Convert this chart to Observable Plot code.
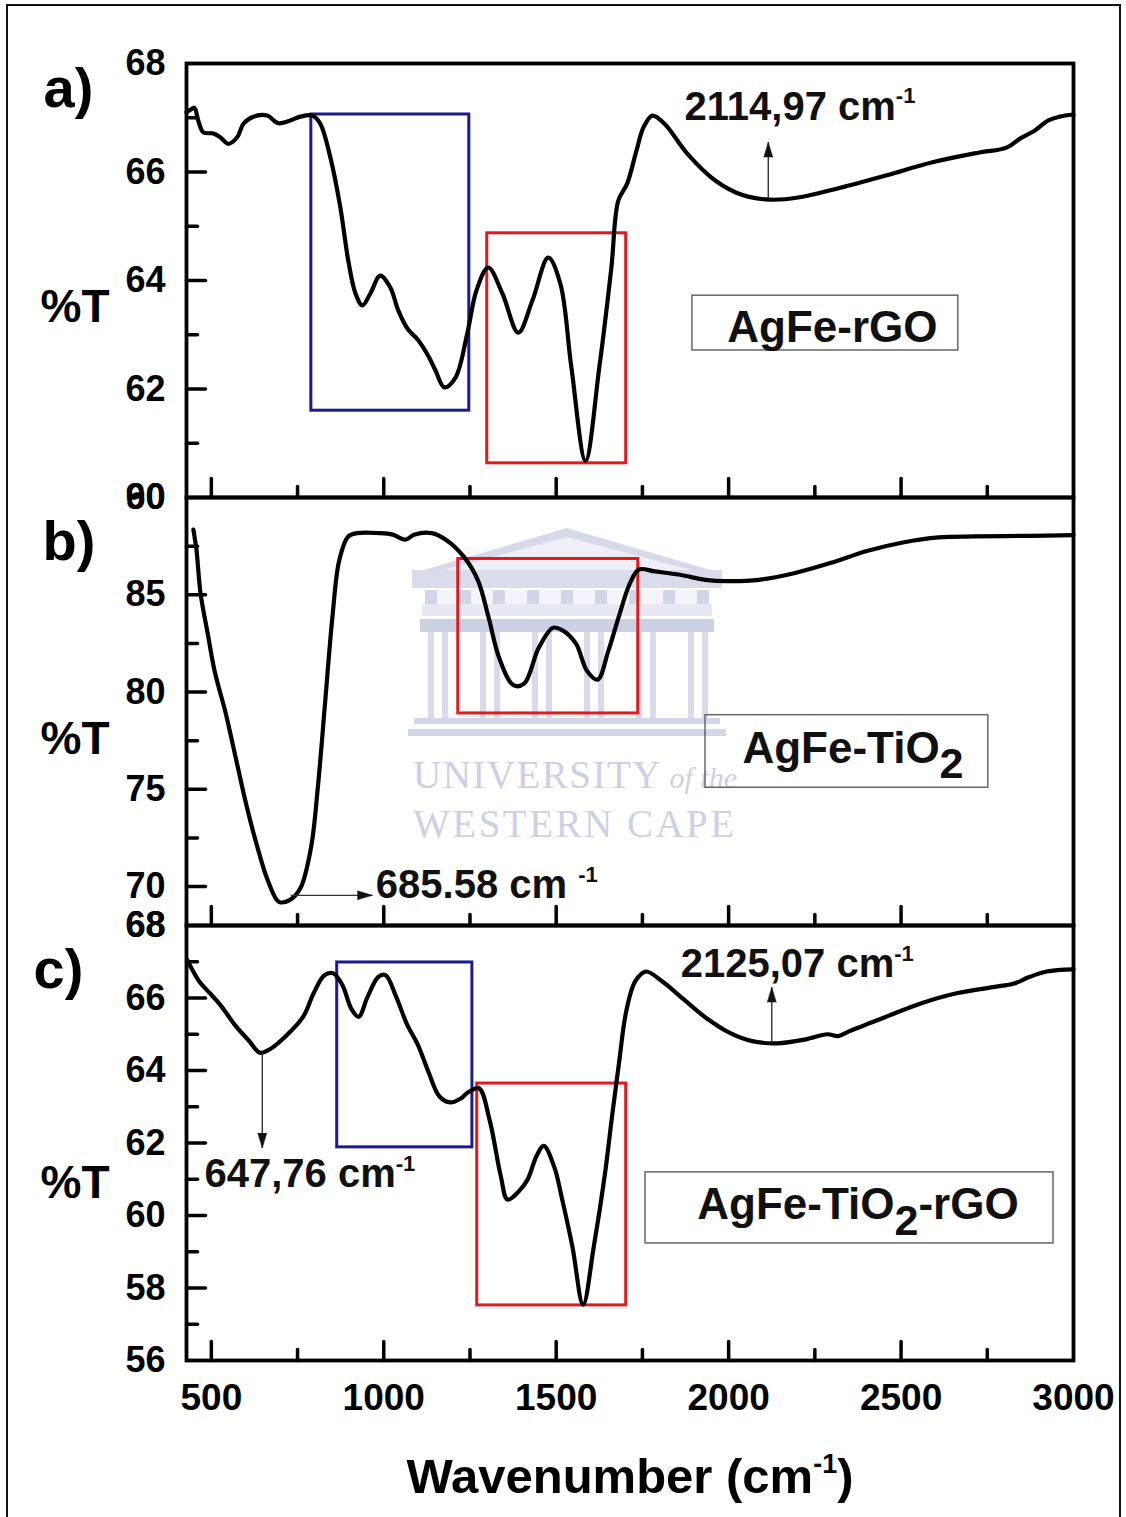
<!DOCTYPE html>
<html>
<head>
<meta charset="utf-8">
<script src="https://cdn.jsdelivr.net/npm/d3@7"></script>
<script src="https://cdn.jsdelivr.net/npm/@observablehq/plot@0.6"></script>
<style>
  body { margin: 0; background: #fff; }
  #wrap { position: relative; width: 1126px; height: 1517px; overflow: hidden; background: #fff; }
  #border { position: absolute; left: 6px; top: 4px; width: 1115px; height: 1540px; border: 2px solid #111; box-sizing: border-box; }
  .wm { position: absolute; }
  .wmtext { position: absolute; font-family: "Liberation Serif", "DejaVu Serif", serif; color: #cdd0e4; font-size: 39px; letter-spacing: 1.5px; white-space: nowrap; }
</style>
</head>
<body>
<div id="wrap">
  <div id="border"></div>
  <!-- faint watermark -->
  <div class="wm" style="left:410px;top:528px;width:314px;height:46px;background:#d6d9ea;clip-path:polygon(0 100%,50% 0,100% 100%);"></div>
  <div class="wm" style="left:428px;top:537px;width:278px;height:37px;background:#eff0f7;clip-path:polygon(0 100%,50% 0,100% 100%);"></div>
  <div class="wm" style="left:412px;top:570px;width:310px;height:18px;background:#dadcec;"></div>
  <div class="wm" style="left:425px;top:590px;width:284px;height:14px;background:repeating-linear-gradient(90deg,#d2d5e8 0 12px,#f4f5fa 12px 34px);"></div>
  <div class="wm" style="left:422px;top:604px;width:290px;height:12px;background:#e7e8f2;"></div>
  <div class="wm" style="left:420px;top:619px;width:294px;height:13px;background:#ccd0e5;"></div>
  <div class="wm" style="left:428px;top:632px;width:280px;height:86px;background:repeating-linear-gradient(90deg,#d9dbec 0 6px,transparent 6px 14px,#d9dbec 14px 20px,transparent 20px 52px);"></div>
  <div class="wm" style="left:414px;top:718px;width:306px;height:6px;background:#d3d6e9;"></div>
  <div class="wm" style="left:408px;top:729px;width:318px;height:7px;background:#d3d6e9;"></div>
  <div class="wmtext" style="left:413px;top:752px;">UNIVERSITY<span style="font-style:italic;font-size:30px;letter-spacing:0"> of the</span></div>
  <div class="wmtext" style="left:413px;top:801px;letter-spacing:2.5px;">WESTERN CAPE</div>
</div>
<script>
// ---------------- data ----------------
const xDomain = [428, 3000];
const xMajorTicks = [500, 1000, 1500, 2000, 2500];
const xMinorTicks = [750, 1250, 1750, 2250, 2750];
const xTickLabels = [500, 1000, 1500, 2000, 2500, 3000];

// a) AgFe-rGO
const waveA = [428, 440, 451, 462, 477, 506, 526, 549, 575, 593, 622, 662, 694, 729, 758, 793, 816, 845, 874, 897, 918, 938, 961, 990, 1019, 1042, 1070, 1100, 1130, 1150, 1176, 1208, 1242, 1269, 1303, 1344, 1390, 1431, 1477, 1512, 1544, 1585, 1625, 1660, 1680, 1706, 1733, 1753, 1779, 1814, 1880, 1962, 2043, 2121, 2202, 2324, 2458, 2591, 2727, 2806, 2846, 2887, 2927, 2960, 3000];
const transA = [67.10, 67.15, 67.18, 66.95, 66.73, 66.71, 66.64, 66.52, 66.64, 66.89, 67.02, 67.04, 66.90, 66.95, 67.02, 67.04, 66.89, 66.27, 65.35, 64.37, 63.76, 63.54, 63.76, 64.09, 63.87, 63.45, 63.10, 62.90, 62.60, 62.34, 62.03, 62.21, 63.02, 63.82, 64.24, 63.76, 63.04, 63.63, 64.42, 63.94, 62.40, 60.68, 62.40, 64.24, 65.47, 65.79, 66.40, 66.82, 67.04, 66.89, 66.34, 65.84, 65.57, 65.49, 65.53, 65.71, 65.94, 66.18, 66.36, 66.45, 66.62, 66.76, 66.95, 67.02, 67.06];

// b) AgFe-TiO2
const waveB = [448, 452, 457, 469, 490, 510, 541, 572, 603, 634, 665, 696, 727, 758, 789, 809, 830, 851, 871, 897, 923, 985, 1026, 1062, 1088, 1139, 1180, 1232, 1273, 1304, 1335, 1376, 1407, 1449, 1490, 1516, 1557, 1589, 1620, 1651, 1682, 1714, 1740, 1786, 1859, 1932, 1995, 2089, 2193, 2297, 2401, 2505, 2609, 2714, 2870, 3000];
const transB = [88.35, 87.9, 87.3, 85.04, 82.96, 81.04, 78.96, 76.52, 74.09, 72.0, 70.26, 69.22, 69.30, 69.91, 72.0, 75.13, 79.48, 83.83, 86.78, 88.0, 88.17, 88.17, 88.09, 87.83, 88.09, 88.17, 87.83, 86.96, 85.74, 83.83, 81.74, 80.35, 80.43, 82.26, 83.3, 83.2, 82.5, 81.1, 80.64, 82.1, 83.9, 85.6, 86.3, 86.2, 86.03, 85.77, 85.7, 85.77, 86.12, 86.64, 87.25, 87.69, 87.95, 88.0, 88.03, 88.07];

// c) AgFe-TiO2-rGO
const waveC = [430, 464, 495, 526, 568, 609, 641, 672, 714, 766, 797, 828, 854, 880, 906, 927, 953, 984, 1005, 1036, 1068, 1099, 1130, 1161, 1193, 1224, 1245, 1276, 1307, 1339, 1359, 1391, 1417, 1443, 1464, 1495, 1516, 1547, 1578, 1609, 1641, 1661, 1682, 1703, 1729, 1760, 1807, 1870, 1932, 2005, 2068, 2141, 2224, 2286, 2318, 2349, 2453, 2557, 2661, 2766, 2828, 2870, 2922, 3000];
const transC = [67.05, 66.47, 66.14, 65.81, 65.26, 64.82, 64.49, 64.60, 64.93, 65.48, 66.14, 66.63, 66.68, 66.36, 65.70, 65.48, 66.03, 66.58, 66.63, 66.03, 65.26, 64.71, 63.95, 63.29, 63.12, 63.23, 63.40, 63.51, 62.63, 61.10, 60.44, 60.66, 60.99, 61.64, 61.92, 61.32, 60.50, 59.14, 57.54, 59.14, 61.12, 62.66, 64.20, 65.63, 66.46, 66.73, 66.46, 65.96, 65.47, 65.03, 64.81, 64.75, 64.86, 65.00, 64.95, 65.08, 65.47, 65.85, 66.13, 66.30, 66.40, 66.57, 66.73, 66.79];

// y axes
const yDomainA = [60, 68], yLabelsA = [60, 62, 64, 66, 68], yMajorA = [62, 64, 66], yMinorA = [61, 63, 65, 67];
const yDomainB = [68, 90], yLabelsB = [68, 70, 75, 80, 85, 90], yMajorB = [70, 75, 80, 85], yMinorB = [72.5, 77.5, 82.5, 87.5];
const yDomainC = [56, 68], yLabelsC = [56, 58, 60, 62, 64, 66, 68], yMajorC = [58, 60, 62, 64, 66], yMinorC = [57, 59, 61, 63, 65, 67];

// highlighted regions (wavenumber range, %T range)
const boxesA = [{x1: 790, x2: 1248, y1: 61.6, y2: 67.06, color: "#1b1b8c"}, {x1: 1300, x2: 1703, y1: 60.63, y2: 64.87, color: "#e3191c"}];
const boxesB = [{x1: 1216, x2: 1738, y1: 78.9, y2: 86.84, color: "#e3191c"}];
const boxesC = [{x1: 865, x2: 1257, y1: 61.88, y2: 66.98, color: "#1b1b8c"}, {x1: 1271, x2: 1703, y1: 57.52, y2: 63.64, color: "#e3191c"}];

// sample legends
const legendA = {x1: 1895, x2: 2666, y1: 62.71, y2: 63.72, text: "AgFe-rGO", tx: 1996, ty: 63.12};
const legendB = {x1: 1933, x2: 2753, y1: 75.08, y2: 78.81, text: "AgFe-TiO_{2}", tx: 2040, ty: 77.10};
const legendC = {x1: 1759, x2: 2942, y1: 59.23, y2: 61.19, text: "AgFe-TiO_{2}-rGO", tx: 1909, ty: 60.30};

// peak annotations
const notesA = [{text: "2114,97 cm^{-1}", x: 1872, y: 67.19}];
const arrowsA = [{x1: 2115, y1: 65.52, x2: 2115, y2: 66.55, rotate: 0}];
const notesB = [{text: "685.58 cm ^{-1}", x: 977, y: 70.05}];
const arrowsB = [{x1: 730, y1: 69.55, x2: 967, y2: 69.55, rotate: 90}];
const notesC = [{text: "647,76 cm^{-1}", x: 480, y: 61.13}, {text: "2125,07 cm^{-1}", x: 1861, y: 66.92}];
const arrowsC = [{x1: 647.76, y1: 64.5, x2: 647.76, y2: 61.86, rotate: 180}, {x1: 2125.07, y1: 64.8, x2: 2125.07, y2: 66.3, rotate: 0}];

// ---------------- drawing ----------------
const FONT = "Liberation Sans, Arial, Helvetica, sans-serif";
const W = 1126, ML = 186, MR = 53;
const tickShape = {draw(ctx, l) { ctx.moveTo(0, 0); ctx.lineTo(0, -l); }};

function panel(cfg) {
  const {wave, trans, yDomain, yLabels, yMajor, yMinor, boxes, legend, notes, arrows, tag, tagDx, tagDy, pctY, top, bottom, marginTop, marginBottom, showX} = cfg;
  const data = wave.map((w, i) => ({w, t: trans[i]}));
  const y0 = yDomain[0];
  const marks = [
    Plot.rect(boxes, {x1: "x1", x2: "x2", y1: "y1", y2: "y2", stroke: "color", fill: "none", strokeWidth: 3}),
    Plot.rect([legend], {x1: "x1", x2: "x2", y1: "y1", y2: "y2", stroke: "#666", fill: "none", strokeWidth: 1.5}),
    Plot.text([legend], {x: "tx", y: "ty", text: "text", textAnchor: "start", lineAnchor: "middle", fontSize: 44, fontWeight: "bold", fill: "#111"}),
    Plot.line(data, {x: "w", y: "t", curve: "catmull-rom", stroke: "#000", strokeWidth: 4.2, strokeLinejoin: "round"}),
    Plot.link(arrows, {x1: "x1", y1: "y1", x2: "x2", y2: "y2", stroke: "#333", strokeWidth: 1.4}),
    Plot.vector(arrows, {x: "x2", y: "y2", rotate: "rotate", length: 15, r: 4.5, anchor: "end", shape: "spike", fill: "#111", stroke: "#111", strokeWidth: 0.5}),
    Plot.text(notes, {x: "x", y: "y", text: "text", textAnchor: "start", lineAnchor: "middle", fontSize: 40, fontWeight: "bold", fill: "#111"}),
    // ticks (inward)
    Plot.vector(xMajorTicks, {x: d => d, y: () => y0, length: 19, rotate: 0, anchor: "start", shape: tickShape, stroke: "#000", strokeWidth: 3.5}),
    Plot.vector(xMinorTicks, {x: d => d, y: () => y0, length: 11, rotate: 0, anchor: "start", shape: tickShape, stroke: "#000", strokeWidth: 3.5}),
    Plot.vector(yMajor, {y: d => d, x: () => xDomain[0], length: 19, rotate: 90, anchor: "start", shape: tickShape, stroke: "#000", strokeWidth: 3.5}),
    Plot.vector(yMinor, {y: d => d, x: () => xDomain[0], length: 11, rotate: 90, anchor: "start", shape: tickShape, stroke: "#000", strokeWidth: 3.5}),
    Plot.axisY({ticks: yLabels, tickSize: 0, tickPadding: 21, tickFormat: d => String(d), fontSize: 36, fontWeight: "bold", label: null}),
    Plot.frame({stroke: "#000", strokeWidth: 3.8}),
    Plot.text([tag], {frameAnchor: "top-left", lineAnchor: "middle", dx: tagDx, dy: tagDy, textAnchor: "start", fontSize: 56, fontWeight: "bold", fill: "#000"}),
    Plot.text(["%T"], {y: () => pctY, frameAnchor: "left", lineAnchor: "middle", dx: -146, textAnchor: "start", fontSize: 46, fontWeight: "bold", fill: "#000"})
  ];
  if (showX) {
    marks.push(Plot.axisX({ticks: xTickLabels, tickSize: 0, tickPadding: 23, tickFormat: d => String(d), fontSize: 37, fontWeight: "bold", label: null}));
    marks.push(Plot.text(["Wavenumber (cm^{-1})"], {frameAnchor: "bottom", lineAnchor: "middle", dy: 117, fontSize: 49, fontWeight: "bold", fill: "#000"}));
  }
  const height = marginTop + (bottom - top) + marginBottom;
  const svg = Plot.plot({
    width: W, height,
    marginLeft: ML, marginRight: MR, marginTop, marginBottom,
    x: {domain: xDomain, axis: null},
    y: {domain: yDomain, axis: null},
    style: {fontFamily: FONT, fontWeight: "bold", color: "#000", background: "transparent", overflow: "visible"},
    marks
  });
  svg.style.position = "absolute";
  svg.style.left = "0px";
  svg.style.top = (top - marginTop) + "px";
  svg.style.overflow = "visible";
  svg.style.maxWidth = "none";
  document.getElementById("wrap").appendChild(svg);
  rich(svg);
  return svg;
}

// turn ^{..} and _{..} into superscript / subscript tspans
function rich(svg) {
  svg.querySelectorAll("text").forEach(t => {
    const s = t.textContent;
    if (!/[\^_]\{/.test(s)) return;
    const fs = parseFloat(getComputedStyle(t).fontSize) || 30;
    const parts = s.split(/(\^\{[^}]*\}|_\{[^}]*\})/).filter(p => p !== "");
    while (t.firstChild) t.removeChild(t.firstChild);
    let shift = 0, first = true;
    for (const p of parts) {
      const ts = document.createElementNS("http://www.w3.org/2000/svg", "tspan");
      let target = 0, size = fs, txt = p;
      if (p.startsWith("^{")) { target = -0.42 * fs; size = 0.55 * fs; txt = p.slice(2, -1); }
      else if (p.startsWith("_{")) { target = 0.36 * fs; size = 0.98 * fs; txt = p.slice(2, -1); }
      if (!first && target - shift !== 0) ts.setAttribute("dy", target - shift);
      shift = target; first = false;
      ts.setAttribute("font-size", size);
      ts.textContent = txt;
      t.appendChild(ts);
    }
  });
}

panel({wave: waveA, trans: transA, yDomain: yDomainA, yLabels: yLabelsA, yMajor: yMajorA, yMinor: yMinorA,
  boxes: boxesA, legend: legendA, notes: notesA, arrows: arrowsA, tag: "a)", tagDx: -143, tagDy: 26, pctY: 63.50,
  top: 63, bottom: 497, marginTop: 63, marginBottom: 20, showX: false});
panel({wave: waveB, trans: transB, yDomain: yDomainB, yLabels: yLabelsB, yMajor: yMajorB, yMinor: yMinorB,
  boxes: boxesB, legend: legendB, notes: notesB, arrows: arrowsB, tag: "b)", tagDx: -144, tagDy: 45, pctY: 77.56,
  top: 497, bottom: 925, marginTop: 20, marginBottom: 20, showX: false});
panel({wave: waveC, trans: transC, yDomain: yDomainC, yLabels: yLabelsC, yMajor: yMajorC, yMinor: yMinorC,
  boxes: boxesC, legend: legendC, notes: notesC, arrows: arrowsC, tag: "c)", tagDx: -153, tagDy: 45, pctY: 60.88,
  top: 925, bottom: 1360, marginTop: 20, marginBottom: 157, showX: true});
</script>
</body>
</html>
